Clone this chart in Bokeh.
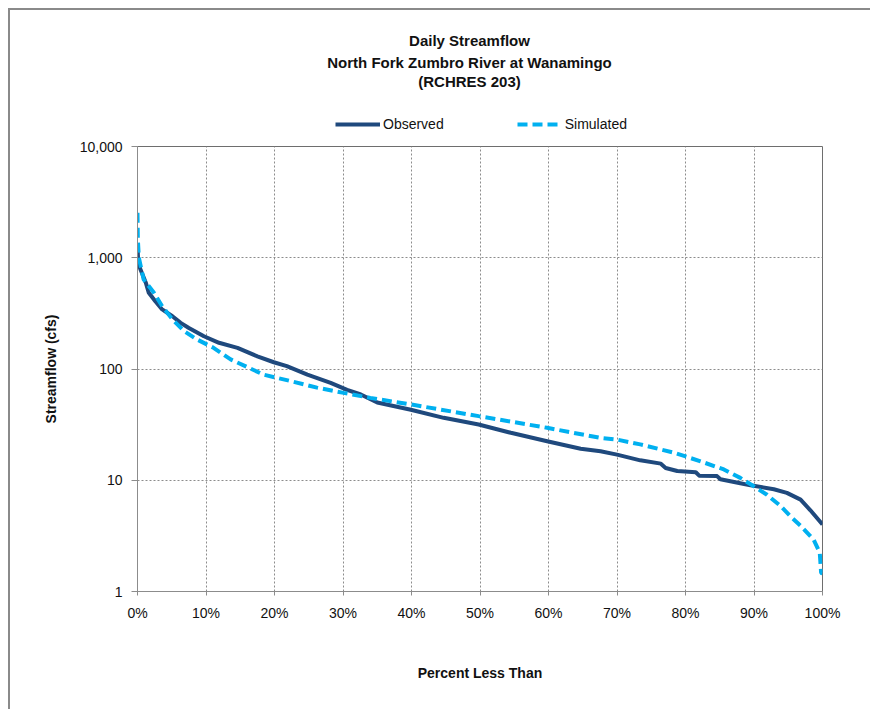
import numpy as np
from bokeh.plotting import figure
from bokeh.models import (Range1d, FixedTicker, NumeralTickFormatter, PrintfTickFormatter,
                          Legend, LegendItem, ColumnDataSource, Label, Spacer)
from bokeh.layouts import column, row
from bokeh.embed import file_html
from bokeh.resources import INLINE

# ---- data ----
title_lines = ["Daily Streamflow", "North Fork Zumbro River at Wanamingo", "(RCHRES 203)"]
x_title = "Percent Less Than"
y_title = "Streamflow (cfs)"
series_names = ["Observed", "Simulated"]

obs_pct = [0, 0.1, 0.44, 1.2, 1.65, 2.6, 3.6, 5.1, 6.3, 7.5, 9.7, 11.9, 14.6, 17.5, 19.9,
           21.8, 24.8, 28.2, 30.6, 32.6, 35, 39.9, 44.7, 49.8, 54.5, 59.8, 64.7, 67.6, 70,
           73.4, 76.4, 77.1, 78.8, 81.5, 82, 84.6, 85.1, 88, 89.5, 92.9, 94.8, 96.8, 98.2, 100]
obs_flow = [1350, 900, 784, 600, 484, 406, 343, 298, 260, 234, 197, 172, 155, 130, 115,
            106, 89, 75, 65, 59, 50, 43, 36.4, 31.7, 26.7, 22.4, 19.2, 18.2, 17,
            15.1, 14.1, 12.9, 12.1, 11.8, 11.0, 10.9, 10.2, 9.4, 9.0, 8.3, 7.7, 6.7, 5.4, 4.0]

sim_pct = [0, 0.05, 0.2, 0.9, 2.4, 3.6, 5.1, 6.8, 8.7, 11.1, 13.6, 18.4, 22.3, 26.2, 30.1,
           34, 39.9, 49.8, 59.8, 67.6, 70, 73.4, 78.3, 82.2, 85.6, 88, 90, 91.9, 93.9,
           95.3, 96.8, 98.7, 99.6, 99.8, 100]
sim_flow = [2540, 1460, 1000, 637, 484, 367, 279, 219, 184, 155, 122, 89, 78, 68, 61,
            55, 48, 37.7, 29.6, 24, 23.2, 21, 17.7, 14.8, 12.5, 10.5, 8.8, 7.4, 5.85,
            4.75, 3.9, 2.93, 2.23, 1.47, 1.45]

x_ticks = [0, 10, 20, 30, 40, 50, 60, 70, 80, 90, 100]
y_ticks = [1, 10, 100, 1000, 10000]

FONT = "Liberation Sans"
OBS_COLOR = "#1F497D"
SIM_COLOR = "#00B0F0"
FRAME_BORDER = "2px solid #8a8a8a"
BL, BR = 127, 50          # left/right borders shared by header and chart
W = 862

# ---------------- header (titles + legend) ----------------
HH = 127
head = figure(width=W, height=HH, x_range=Range1d(10 + BL, 10 + W - BR), y_range=Range1d(HH, 0),
              output_backend="svg", toolbar_location=None,
              x_axis_location=None, y_axis_location=None,
              min_border_left=BL, min_border_right=BR, min_border_top=0, min_border_bottom=0,
              background_fill_color="white", border_fill_color="white",
              styles={"border-top": FRAME_BORDER, "border-left": FRAME_BORDER})
head.outline_line_color = None
head.xgrid.visible = False
head.ygrid.visible = False

for txt, yy in zip(title_lines, [30, 52, 71]):
    head.add_layout(Label(x=469, y=yy, text=txt, text_align="center", text_baseline="middle",
                          text_font=FONT, text_font_style="bold", text_font_size="15px",
                          text_color="#111111"))

nan_src = dict(x=[np.nan], y=[np.nan])
h_obs = head.line("x", "y", source=ColumnDataSource(nan_src), line_color=OBS_COLOR, line_width=4)
h_sim = head.line("x", "y", source=ColumnDataSource(dict(nan_src)), line_color=SIM_COLOR,
                  line_width=4, line_dash="10 5")
legend = Legend(items=[LegendItem(label=series_names[0], renderers=[h_obs]),
                       LegendItem(label=series_names[1], renderers=[h_sim])],
                location=(198, 3.5), orientation="horizontal",
                glyph_width=45, glyph_height=20, label_height=20, label_standoff=3,
                spacing=73, padding=0, margin=0,
                border_line_alpha=0, background_fill_alpha=0,
                label_text_font=FONT, label_text_font_size="14px", label_text_color="#111111")
head.add_layout(legend)

# ---------------- main chart ----------------
MH = 711 - 8 - 2 - HH
p = figure(width=W, height=MH, x_range=Range1d(0, 100), y_range=Range1d(1, 10000),
           y_axis_type="log", output_backend="svg", toolbar_location=None,
           min_border_left=BL, min_border_right=BR, min_border_top=11, min_border_bottom=118,
           background_fill_color="white", border_fill_color="white",
           styles={"border-left": FRAME_BORDER})

p.outline_line_color = "#6e6e6e"
p.outline_line_width = 1

p.xaxis.ticker = FixedTicker(ticks=x_ticks, minor_ticks=[])
p.xaxis.formatter = PrintfTickFormatter(format="%d%%")
p.yaxis.ticker = FixedTicker(ticks=y_ticks, minor_ticks=[])
p.yaxis.formatter = NumeralTickFormatter(format="0,0")
for ax in (p.xaxis[0], p.yaxis[0]):
    ax.axis_line_color = "#8c8c8c"
    ax.major_tick_line_color = "#8c8c8c"
    ax.minor_tick_line_color = None
    ax.major_tick_in = 0
    ax.major_label_text_font = FONT
    ax.major_label_text_font_size = "14px"
    ax.major_label_text_color = "#111111"
    ax.axis_label_text_font = FONT
    ax.axis_label_text_font_size = "14px"
    ax.axis_label_text_font_style = "bold"
    ax.axis_label_text_color = "#111111"
p.xaxis.major_tick_out = 4
p.xaxis.major_label_standoff = 9
p.xaxis.axis_label = x_title
p.xaxis.axis_label_standoff = 41
p.yaxis.major_tick_out = 6
p.yaxis.major_label_standoff = 9
p.yaxis.axis_label = y_title
p.yaxis.axis_label_standoff = 18

p.xgrid.grid_line_color = "#8c8c8c"
p.xgrid.grid_line_dash = "2 2"
p.ygrid.grid_line_color = "#8c8c8c"
p.ygrid.grid_line_dash = "2 2"

src_obs = ColumnDataSource(dict(x=obs_pct, y=obs_flow))
src_sim = ColumnDataSource(dict(x=sim_pct, y=sim_flow))
p.line("x", "y", source=src_obs, line_color=OBS_COLOR, line_width=4, line_join="round")
p.line("x", "y", source=src_sim, line_color=SIM_COLOR, line_width=4, line_dash="10 5")

layout = row(Spacer(width=8, height=711),
             column(Spacer(width=W + 2, height=8), head, p, spacing=0), spacing=0)

open("out.html", "w").write(file_html(layout, INLINE))
